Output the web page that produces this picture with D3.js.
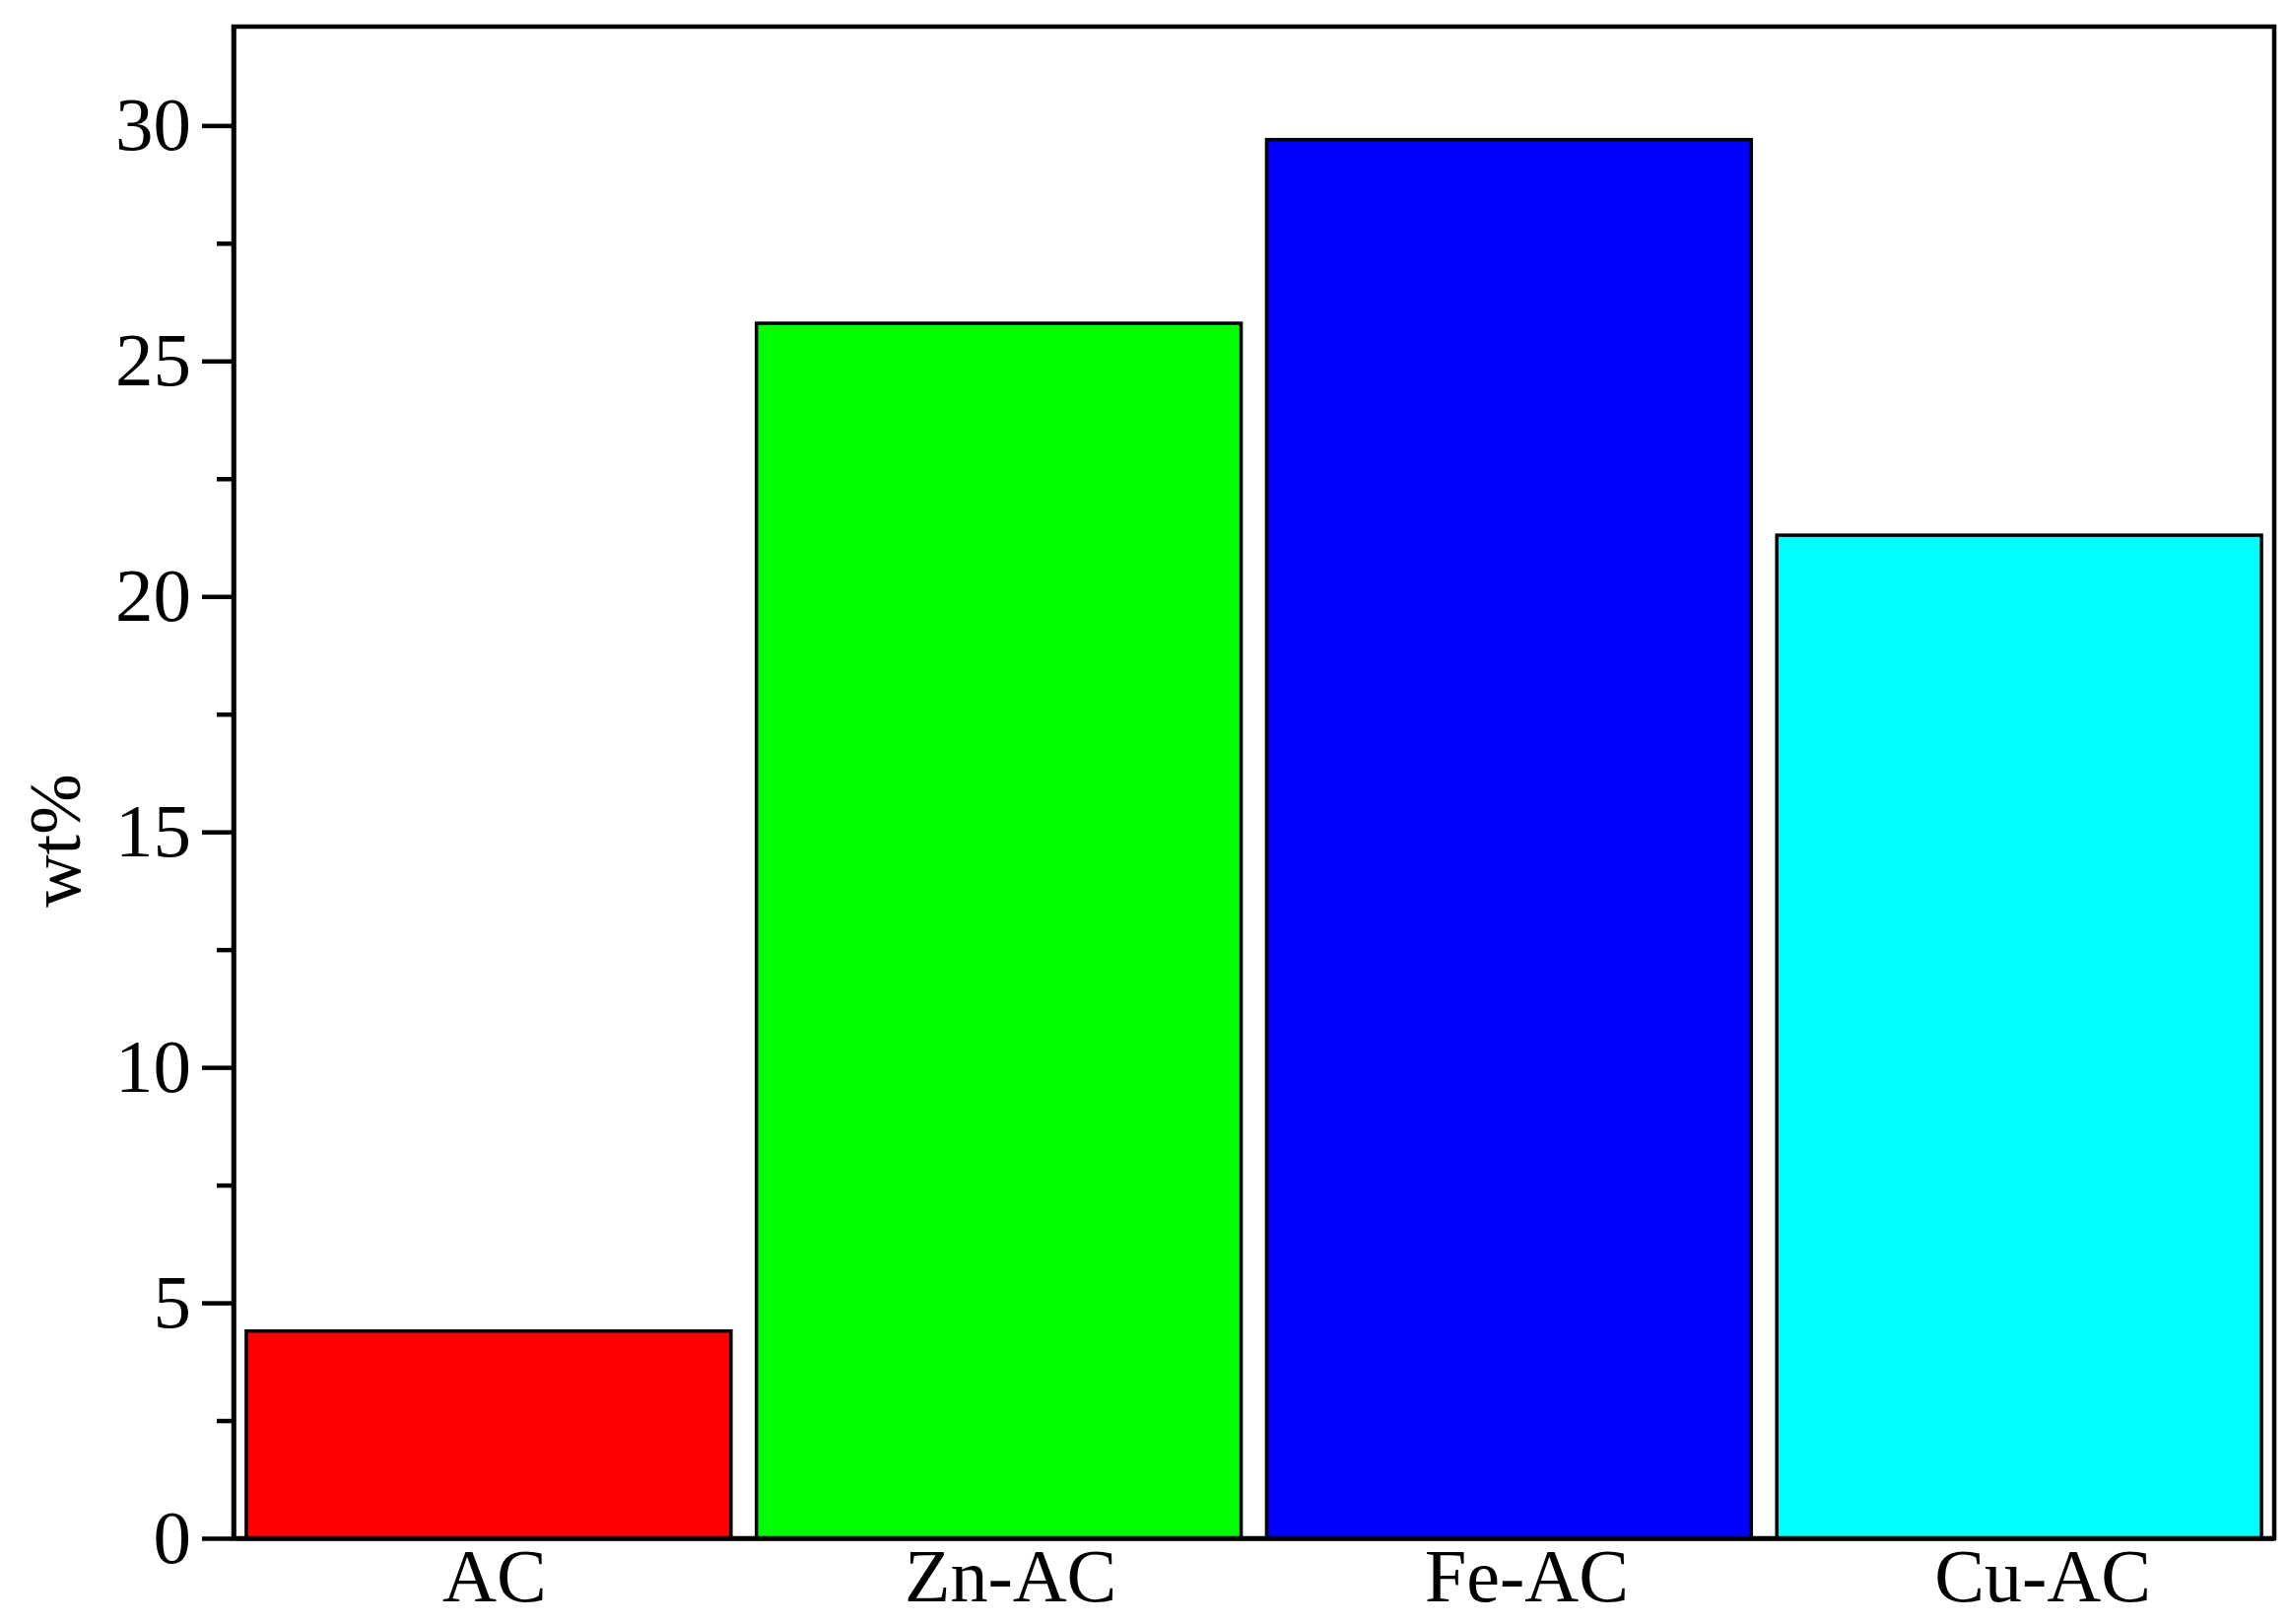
<!DOCTYPE html>
<html>
<head>
<meta charset="utf-8">
<script src="https://cdn.jsdelivr.net/npm/d3@7"></script>
<style>
  body { margin: 0; background: #fff; }
  svg text { font-family: "Liberation Serif", "Times New Roman", serif; }
</style>
</head>
<body>
<div id="vis"></div>
<script>
// chart data
var categories = ["AC", "Zn-AC", "Fe-AC", "Cu-AC"];
var values = [4.4, 25.8, 29.7, 21.3];
var colors = ["#ff0000", "#00ff00", "#0000ff", "#00ffff"];
var majorTicks = [0, 5, 10, 15, 20, 25, 30];
var minorTicks = [2.5, 7.5, 12.5, 17.5, 22.5, 27.5];
var yLabel = "wt%";

var width = 2324;
var height = 1648;
var margin = {top: 27, right: 16, bottom: 87, left: 237};

var svg = d3.select("#vis").append("svg")
    .attr("width", width)
    .attr("height", height);

var x = d3.scaleBand()
    .domain(categories)
    .range([margin.left, width - margin.right])
    .paddingInner(0.05)
    .paddingOuter(0.025);

var y = d3.scaleLinear()
    .domain([0, 32.1])
    .range([height - margin.bottom, margin.top]);

// bars
svg.selectAll(".bar")
    .data(values)
    .enter()
    .append("rect")
    .attr("class", "bar")
    .attr("x", function(d, i) { return x(categories[i]); })
    .attr("width", x.bandwidth())
    .attr("y", function(d) { return y(d); })
    .attr("height", function(d) { return y(0) - y(d); })
    .attr("fill", function(d, i) { return colors[i]; })
    .attr("stroke", "#000")
    .attr("stroke-width", 3.5);

// frame (top and right)
svg.append("rect")
    .attr("x", margin.left)
    .attr("y", margin.top)
    .attr("width", width - margin.right - margin.left)
    .attr("height", height - margin.bottom - margin.top)
    .attr("fill", "none")
    .attr("stroke", "#000")
    .attr("stroke-width", 4.5);

// minor y ticks
svg.append("g")
    .attr("transform", "translate(" + margin.left + ",0)")
    .call(d3.axisLeft(y).tickValues(minorTicks).tickSize(17).tickFormat(""))
    .call(function(g) {
        g.select(".domain").remove();
        g.selectAll("line").attr("stroke-width", 4.5);
    });

// major y ticks
svg.append("g")
    .attr("transform", "translate(" + margin.left + ",0)")
    .call(d3.axisLeft(y).tickValues(majorTicks).tickSize(32).tickSizeOuter(0)
        .tickPadding(11).tickFormat(d3.format("d")))
    .call(function(g) {
        g.select(".domain").attr("stroke-width", 4.5);
        g.selectAll("line").attr("stroke-width", 4.5);
        g.selectAll("text")
            .attr("font-size", 77)
            .attr("fill", "#000");
    });

// x axis (labels only)
svg.append("g")
    .attr("transform", "translate(0," + y(0) + ")")
    .call(d3.axisBottom(x).tickSize(0).tickPadding(10))
    .call(function(g) {
        g.select(".domain").attr("stroke-width", 4.5);
        g.selectAll("text")
            .attr("font-size", 76)
            .attr("fill", "#000")
            .attr("dx", function(d, i) { return 6 + i * 6; });
    });

// y axis title
svg.append("text")
    .attr("transform", "translate(56,853) rotate(-90)")
    .attr("text-anchor", "middle")
    .attr("dominant-baseline", "central")
    .attr("font-size", 74)
    .text(yLabel);
</script>
</body>
</html>
